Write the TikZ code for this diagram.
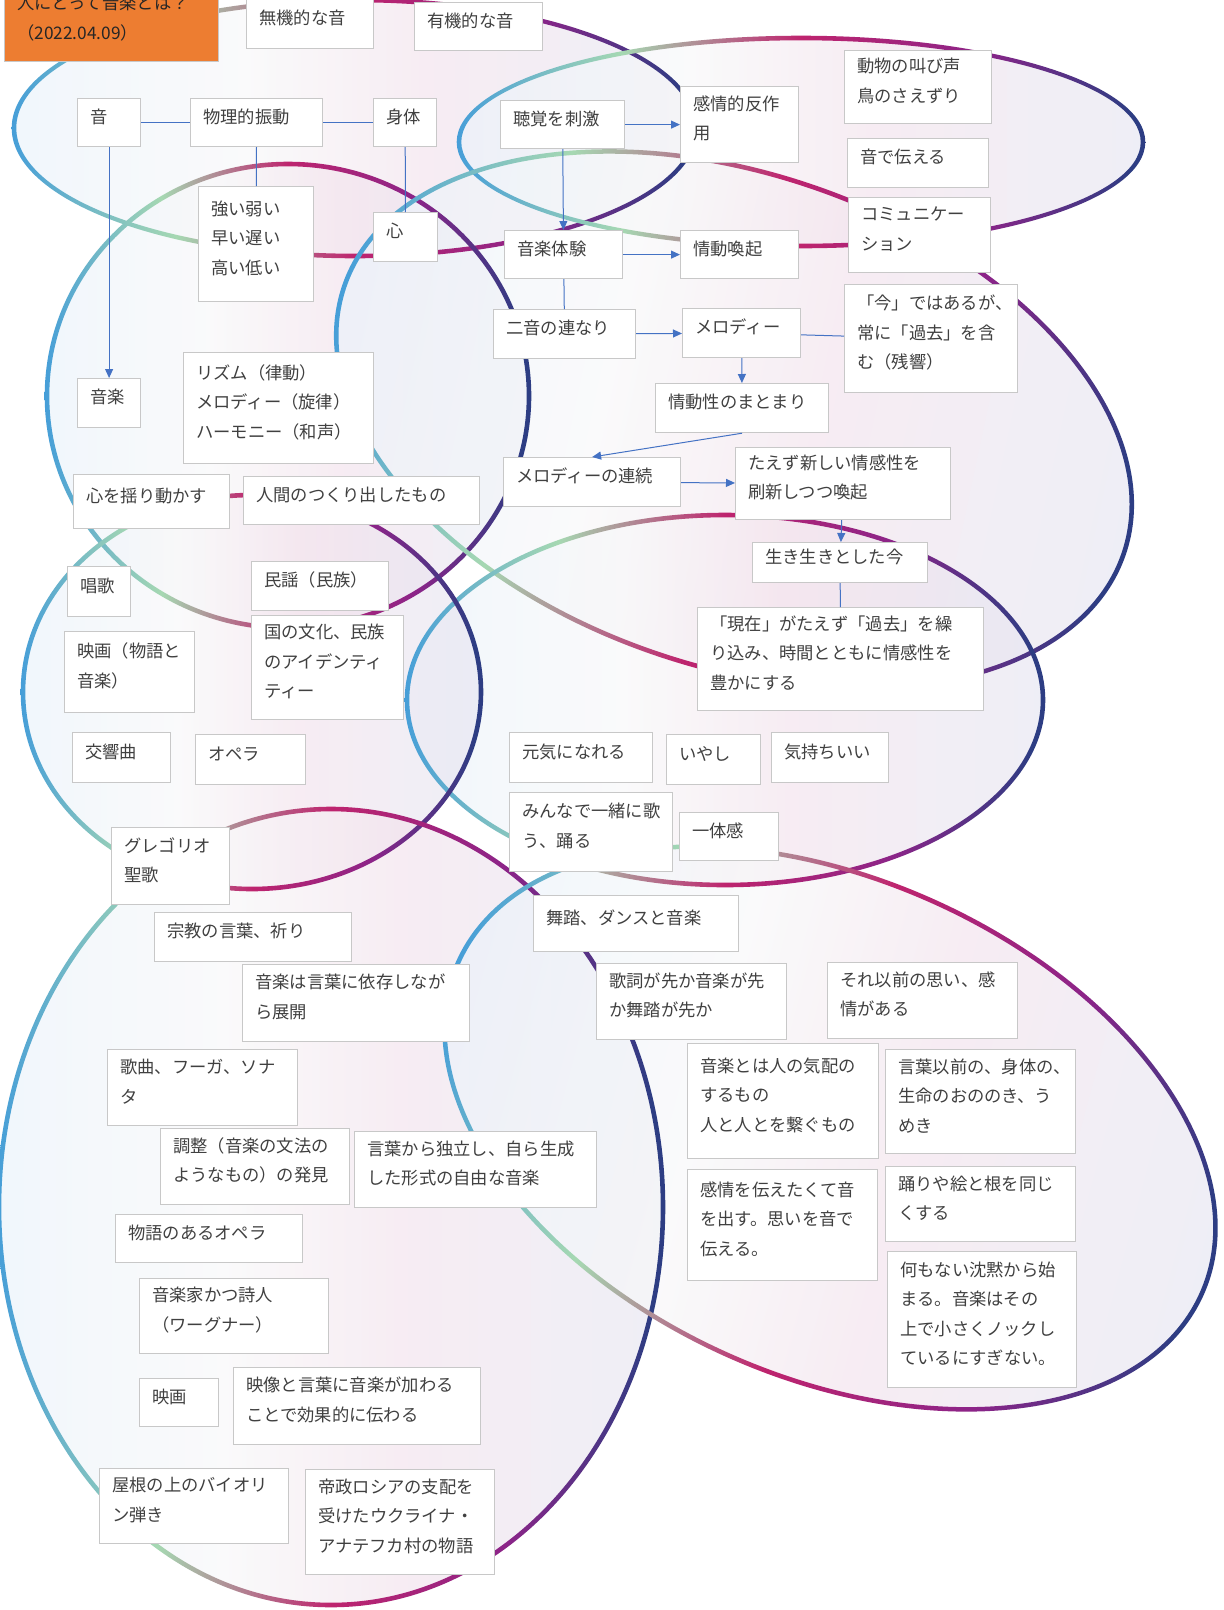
\documentclass[tikz,border=0pt]{standalone}
\usepackage{fontspec}
\setmainfont{Noto Sans CJK JP}
\usetikzlibrary{arrows.meta}
\definecolor{gblue}{HTML}{469ED8}
\definecolor{ggreen}{HTML}{A6D8B2}
\definecolor{gmag}{HTML}{BE246E}
\definecolor{gpurp}{HTML}{8C2488}
\definecolor{gnavy}{HTML}{2D3D83}
\definecolor{fblue}{HTML}{EAF3FB}
\definecolor{fwhite}{HTML}{F8F8F9}
\definecolor{fpink}{HTML}{F3E3ED}
\definecolor{flav}{HTML}{E6E6F2}
\definecolor{boxline}{HTML}{C8C8C8}
\definecolor{conn}{HTML}{4472C4}
\definecolor{txt}{HTML}{404040}
\definecolor{titleorange}{HTML}{ED7D31}
\pgfdeclarehorizontalshading{ringgrad}{100bp}{color(0bp)=(gblue); color(25bp)=(gblue); color(37bp)=(ggreen); color(50bp)=(gmag); color(63bp)=(gpurp); color(74bp)=(gnavy); color(100bp)=(gnavy)}
\pgfdeclarehorizontalshading{fillgrad}{100bp}{color(0bp)=(fblue); color(25bp)=(fblue); color(42bp)=(fwhite); color(55bp)=(fpink); color(75bp)=(flav); color(100bp)=(flav)}
\begin{document}
\begin{tikzpicture}[x=1pt, y=-1pt]
\tikzset{
  halo/.style={shading=fillgrad, opacity=0.65},
  ring/.style={shading=ringgrad, even odd rule},
  box/.style={draw=boxline, line width=1.2pt, fill=white, anchor=north west, inner xsep=12.5pt, inner ysep=0pt, align=left, text=txt, font=\fontsize{17.3}{29.5}\selectfont, execute at end node={\par\kern12pt}},
  link/.style={draw=conn, line width=1pt},
  arr/.style={link, -{Triangle[length=9pt, width=8pt]}}
}
\useasboundingbox (0,0) rectangle (1224,1610);
\fill[white] (0,0) rectangle (1224,1610);
\shade[halo] (355,128) ellipse [x radius=341, y radius=128];
\shade[halo] (801,142) ellipse [x radius=342, y radius=104];
\shade[halo] (288,396) ellipse [x radius=241, y radius=232];
\shade[halo, shading angle=-12] (734,420) ellipse [x radius=412, y radius=246, rotate=-19];
\shade[halo] (725,700) ellipse [x radius=318, y radius=185];
\shade[halo] (252,692) ellipse [x radius=229, y radius=197];
\shade[halo] (331,1207) ellipse [x radius=332, y radius=398];
\shade[halo, shading angle=-15] (830,1128) ellipse [x radius=407, y radius=249, rotate=-24];
\shade[ring] (355,128) ellipse [x radius=343.3, y radius=130.3] (355,128) ellipse [x radius=338.7, y radius=125.7];
\shade[ring] (801,142) ellipse [x radius=344.3, y radius=106.3] (801,142) ellipse [x radius=339.7, y radius=101.7];
\shade[ring] (288,396) ellipse [x radius=243.3, y radius=234.3] (288,396) ellipse [x radius=238.7, y radius=229.7];
\shade[ring, shading angle=-12] (734,420) ellipse [x radius=414.3, y radius=248.3, rotate=-19] (734,420) ellipse [x radius=409.7, y radius=243.7, rotate=-19];
\shade[ring] (725,700) ellipse [x radius=320.3, y radius=187.3] (725,700) ellipse [x radius=315.7, y radius=182.7];
\shade[ring] (252,692) ellipse [x radius=231.3, y radius=199.3] (252,692) ellipse [x radius=226.7, y radius=194.7];
\shade[ring] (331,1207) ellipse [x radius=334.3, y radius=400.3] (331,1207) ellipse [x radius=329.7, y radius=395.7];
\shade[ring, shading angle=-15] (830,1128) ellipse [x radius=409.3, y radius=251.3, rotate=-24] (830,1128) ellipse [x radius=404.7, y radius=246.7, rotate=-24];
\node[box, fill=titleorange, text=black!85, text width=189, minimum height=75] (title) at (4,-14) {人にとって音楽とは？\\（2022.04.09）};
\node[box, text width=102, minimum height=50] (muki) at (246,-2) {無機的な音};
\node[box, text width=103, minimum height=48] (yuki) at (414,2) {有機的な音};
\node[box, text width=38, minimum height=48] (oto) at (77,98) {音};
\node[box, text width=107, minimum height=48] (butsuri) at (190,98) {物理的振動};
\node[box, text width=38, minimum height=48] (shintai) at (373,98) {身体};
\node[box, text width=99, minimum height=48] (choukaku) at (500,100) {聴覚を刺激};
\node[box, text width=93, minimum height=76] (kanjou) at (680,86) {感情的反作\\用};
\node[box, text width=122, minimum height=73] (doubutsu) at (844,50) {動物の叫び声\\鳥のさえずり};
\node[box, text width=116, minimum height=49] (otode) at (847,138) {音で伝える};
\node[box, text width=90, minimum height=115] (tsuyoi) at (198,186) {強い弱い\\早い遅い\\高い低い};
\node[box, text width=39, minimum height=49] (kokoro) at (373,212) {心};
\node[box, text width=93, minimum height=48] (ongakutaiken) at (504,230) {音楽体験};
\node[box, text width=93, minimum height=48] (joudou) at (680,230) {情動喚起};
\node[box, text width=117, minimum height=75] (comm) at (848,197) {コミュニケー\\ション};
\node[box, text width=117, minimum height=49] (nion) at (493,309) {二音の連なり};
\node[box, text width=93, minimum height=49] (melody) at (682,308) {メロディー};
\node[box, text width=148, minimum height=108] (ima) at (844,284) {「今」ではあるが、\\常に「過去」を含\\む（残響）};
\node[box, text width=148, minimum height=49] (joudousei) at (655,383) {情動性のまとまり};
\node[box, text width=38, minimum height=49] (ongaku) at (77,378) {音楽};
\node[box, text width=165, minimum height=111] (rhythm) at (183,352) {リズム（律動）\\メロディー（旋律）\\ハーモニー（和声）};
\node[box, text width=131, minimum height=54] (yurugasu) at (73,474) {心を揺り動かす};
\node[box, text width=211, minimum height=48] (ningen) at (243,476) {人間のつくり出したもの};
\node[box, text width=152, minimum height=49] (renzoku) at (503,457) {メロディーの連続};
\node[box, text width=190, minimum height=72] (taezu) at (735,447) {たえず新しい情感性を\\刷新しつつ喚起};
\node[box, text width=150, minimum height=40] (ikiiki) at (752,542) {生き生きとした今};
\node[box, text width=261, minimum height=103] (genzai) at (697,607) {「現在」がたえず「過去」を繰\\り込み、時間とともに情感性を\\豊かにする};
\node[box, text width=38, minimum height=50] (shouka) at (67,566) {唱歌};
\node[box, text width=112, minimum height=49] (minyou) at (251,561) {民謡（民族）};
\node[box, text width=105, minimum height=81] (eiga) at (64,631) {映画（物語と\\音楽）};
\node[box, text width=127, minimum height=104] (kuni) at (251,615) {国の文化、民族\\のアイデンティ\\ティー};
\node[box, text width=73, minimum height=50] (koukyou) at (72,732) {交響曲};
\node[box, text width=85, minimum height=50] (opera) at (195,734) {オペラ};
\node[box, text width=118, minimum height=50] (genki) at (509,732) {元気になれる};
\node[box, text width=69, minimum height=50] (iyashi) at (666,734) {いやし};
\node[box, text width=92, minimum height=50] (kimochi) at (771,732) {気持ちいい};
\node[box, text width=138, minimum height=79] (minna) at (509,792) {みんなで一緒に歌\\う、踊る};
\node[box, text width=74, minimum height=48] (ittai) at (679,812) {一体感};
\node[box, text width=93, minimum height=77] (gregorio) at (111,827) {グレゴリオ\\聖歌};
\node[box, text width=172, minimum height=49] (shuukyou) at (154,912) {宗教の言葉、祈り};
\node[box, text width=180, minimum height=56] (butou) at (533,895) {舞踏、ダンスと音楽};
\node[box, text width=202, minimum height=77] (izon) at (242,964) {音楽は言葉に依存しなが\\ら展開};
\node[box, text width=165, minimum height=76] (kashi) at (596,963) {歌詞が先か音楽が先\\か舞踏が先か};
\node[box, text width=165, minimum height=76] (soreizen) at (827,962) {それ以前の思い、感\\情がある};
\node[box, text width=165, minimum height=76] (kakyoku) at (107,1049) {歌曲、フーガ、ソナ\\タ};
\node[box, text width=166, minimum height=115] (kehai) at (687,1043) {音楽とは人の気配の\\するもの\\人と人とを繋ぐもの};
\node[box, text width=165, minimum height=104] (kotobaizen) at (885,1049) {言葉以前の、身体の、\\生命のおののき、う\\めき};
\node[box, text width=164, minimum height=76] (chousei) at (160,1128) {調整（音楽の文法の\\ようなもの）の発見};
\node[box, text width=217, minimum height=76] (dokuritsu) at (354,1131) {言葉から独立し、自ら生成\\した形式の自由な音楽};
\node[box, text width=165, minimum height=111] (tsutaetai) at (687,1169) {感情を伝えたくて音\\を出す。思いを音で\\伝える。};
\node[box, text width=165, minimum height=75] (odori) at (885,1166) {踊りや絵と根を同じ\\くする};
\node[box, text width=162, minimum height=48] (monogatari) at (115,1214) {物語のあるオペラ};
\node[box, text width=164, minimum height=136] (chinmoku) at (887,1251) {何もない沈黙から始\\まる。音楽はその\\上で小さくノックし\\ているにすぎない。};
\node[box, text width=164, minimum height=75] (wagner) at (139,1278) {音楽家かつ詩人\\（ワーグナー）};
\node[box, text width=54, minimum height=48] (eiga2) at (139,1378) {映画};
\node[box, text width=222, minimum height=77] (eizou) at (233,1367) {映像と言葉に音楽が加わる\\ことで効果的に伝わる};
\node[box, text width=164, minimum height=75] (yane) at (99,1468) {屋根の上のバイオリ\\ン弾き};
\node[box, text width=164, minimum height=105] (teisei) at (305,1469) {帝政ロシアの支配を\\受けたウクライナ・\\アナテフカ村の物語};
\draw[link] (oto) -- (butsuri);
\draw[link] (butsuri) -- (shintai);
\draw[link] (butsuri) -- (tsuyoi);
\draw[link] (shintai) -- (kokoro);
\draw[arr] (oto) -- (ongaku);
\draw[arr] (choukaku) -- (kanjou);
\draw[arr] (choukaku) -- (ongakutaiken);
\draw[arr] (ongakutaiken) -- (joudou);
\draw[link] (ongakutaiken) -- (nion);
\draw[arr] (nion) -- (melody);
\draw[link] (melody) -- (ima);
\draw[arr] (melody) -- (joudousei);
\draw[arr] (joudousei.south) -- (renzoku.north);
\draw[arr] (renzoku) -- (taezu);
\draw[arr] (taezu) -- (ikiiki);
\draw[link] (ikiiki) -- (genzai);
\end{tikzpicture}
\end{document}
